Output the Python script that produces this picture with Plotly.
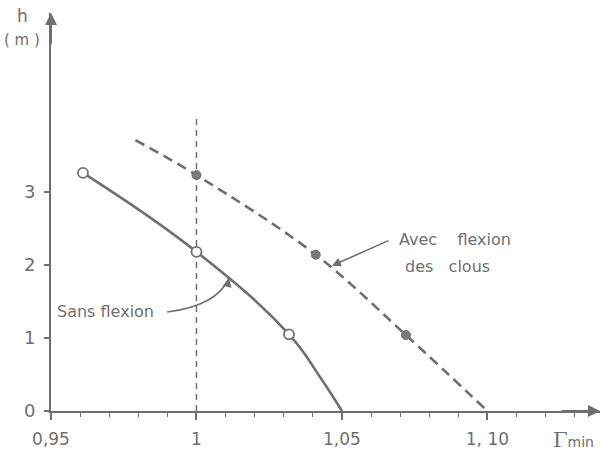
import plotly.graph_objects as go

# Measured points (Gamma_min, h in metres)
sans_gamma = [0.961, 1.0, 1.0318]
sans_h = [3.26, 2.18, 1.05]
avec_gamma = [1.0, 1.041, 1.072]
avec_h = [3.23, 2.14, 1.04]

# Fitted curves through the points
sans_curve_gamma = [0.961, 1.0, 1.0318, 1.0424, 1.05]
sans_curve_h = [3.26, 2.18, 1.05, 0.47, 0.0]
avec_curve_gamma = [0.979, 1.0, 1.041, 1.072, 1.10]
avec_curve_h = [3.71, 3.23, 2.14, 1.04, 0.0]

# Reference line Gamma = 1
ref_gamma = [1.0, 1.0]
ref_h = [0.0, 4.03]

x_tickvals = [0.95, 1.0, 1.05, 1.10]
x_ticktext = ["0,95", "1", "1,05", "1, 10"]
y_tickvals = [0, 1, 2, 3]
y_ticktext = ["0", "1", "2", "3"]

INK = "#6f6f6f"
FONT = "DejaVu Sans"
NB = "\u00a0"

x_range = [0.95, 1.1387]
y_range = [0.0, 5.45]

fig = go.Figure()

fig.add_trace(go.Scatter(
    x=ref_gamma, y=ref_h, mode="lines",
    line=dict(color=INK, width=1.5, dash="6px,5px"),
    showlegend=False, hoverinfo="skip"))

fig.add_trace(go.Scatter(
    x=sans_curve_gamma, y=sans_curve_h, mode="lines",
    line=dict(color=INK, width=2.6, shape="spline", smoothing=1.2),
    showlegend=False))

fig.add_trace(go.Scatter(
    x=avec_curve_gamma, y=avec_curve_h, mode="lines",
    line=dict(color=INK, width=2.6, shape="spline", smoothing=1.0, dash="10px,6px"),
    showlegend=False))

fig.add_trace(go.Scatter(
    x=sans_gamma, y=sans_h, mode="markers",
    marker=dict(symbol="circle", size=10, color="white",
                line=dict(color=INK, width=1.8)),
    showlegend=False))

fig.add_trace(go.Scatter(
    x=avec_gamma, y=avec_h, mode="markers",
    marker=dict(symbol="circle", size=9, color="#7a7a7a",
                line=dict(color=INK, width=1)),
    showlegend=False))

# Curved leader from the "Sans flexion" label to the solid curve
fig.add_shape(
    type="path", xref="x", yref="y",
    path="M 0.9899,1.356 Q 1.0070,1.440 1.0112,1.820",
    line=dict(color=INK, width=1.6))

label_font = dict(family=FONT, size=16, color=INK)

annotations = [
    # small arrowhead at the end of the curved leader
    dict(x=1.0112, y=1.820, ax=-2, ay=9, xref="x", yref="y",
         showarrow=True, arrowhead=2, arrowsize=1.1, arrowwidth=1.6,
         arrowcolor=INK, text=""),
    # straight leader for the dashed curve
    dict(x=1.0466, y=1.99, ax=1.0665, ay=2.342, xref="x", yref="y",
         axref="x", ayref="y", showarrow=True, arrowhead=2,
         arrowsize=1.1, arrowwidth=1.6, arrowcolor=INK, text=""),
    dict(x=0.9514, y=1.356, xref="x", yref="y", text="Sans flexion",
         showarrow=False, xanchor="left", yanchor="middle", font=label_font),
    dict(x=1.0689, y=2.342, xref="x", yref="y",
         text="Avec" + NB * 4 + "flexion",
         showarrow=False, xanchor="left", yanchor="middle", font=label_font),
    dict(x=1.0709, y=1.973, xref="x", yref="y",
         text="des" + NB * 3 + "clous",
         showarrow=False, xanchor="left", yanchor="middle", font=label_font),
    # axis arrowheads
    dict(x=0.95, y=5.45, ax=0.95, ay=5.0, xref="x", yref="y",
         axref="x", ayref="y", showarrow=True, arrowhead=2,
         arrowsize=1.2, arrowwidth=2, arrowcolor=INK, text=""),
    dict(x=1.1387, y=0.0, ax=1.125, ay=0.0, xref="x", yref="y",
         axref="x", ayref="y", showarrow=True, arrowhead=2,
         arrowsize=1.2, arrowwidth=2, arrowcolor=INK, text=""),
    # axis titles
    dict(x=-0.0528, y=0.992, xref="paper", yref="paper", text="h",
         showarrow=False, xanchor="center", yanchor="middle",
         font=dict(family=FONT, size=17, color=INK)),
    dict(x=-0.0528, y=0.932, xref="paper", yref="paper", text="( m )",
         showarrow=False, xanchor="center", yanchor="middle",
         font=dict(family=FONT, size=15, color=INK)),
    dict(x=0.951, y=-0.073, xref="paper", yref="paper",
         text="<span style='font-family:DejaVu Serif'>Γ</span>"
              "<span style='font-size:14px'>min</span>",
         showarrow=False, xanchor="center", yanchor="middle",
         font=dict(family=FONT, size=21, color=INK)),
]

fig.update_layout(
    width=604, height=455,
    margin=dict(l=51, r=4, t=13, b=44),
    paper_bgcolor="white", plot_bgcolor="white",
    annotations=annotations,
    font=dict(family=FONT, color=INK),
)

fig.update_xaxes(
    range=x_range, tickvals=x_tickvals, ticktext=x_ticktext,
    showgrid=False, zeroline=False, showline=True, linecolor=INK, linewidth=2,
    ticks="outside", ticklen=7, tickwidth=1.5, tickcolor=INK,
    ticklabelstandoff=5,
    tickfont=dict(family=FONT, size=17, color=INK),
    minor=dict(dtick=0.01, tick0=0.95, ticks="outside", ticklen=4,
               tickwidth=1.3, tickcolor=INK, showgrid=False),
    fixedrange=True)

fig.update_yaxes(
    range=y_range, tickvals=y_tickvals, ticktext=y_ticktext,
    showgrid=False, zeroline=False, showline=True, linecolor=INK, linewidth=2,
    ticks="outside", ticklen=5, tickwidth=1.5, tickcolor=INK,
    ticklabelstandoff=5,
    tickfont=dict(family=FONT, size=18, color=INK),
    fixedrange=True)

fig.write_html("out.html")
